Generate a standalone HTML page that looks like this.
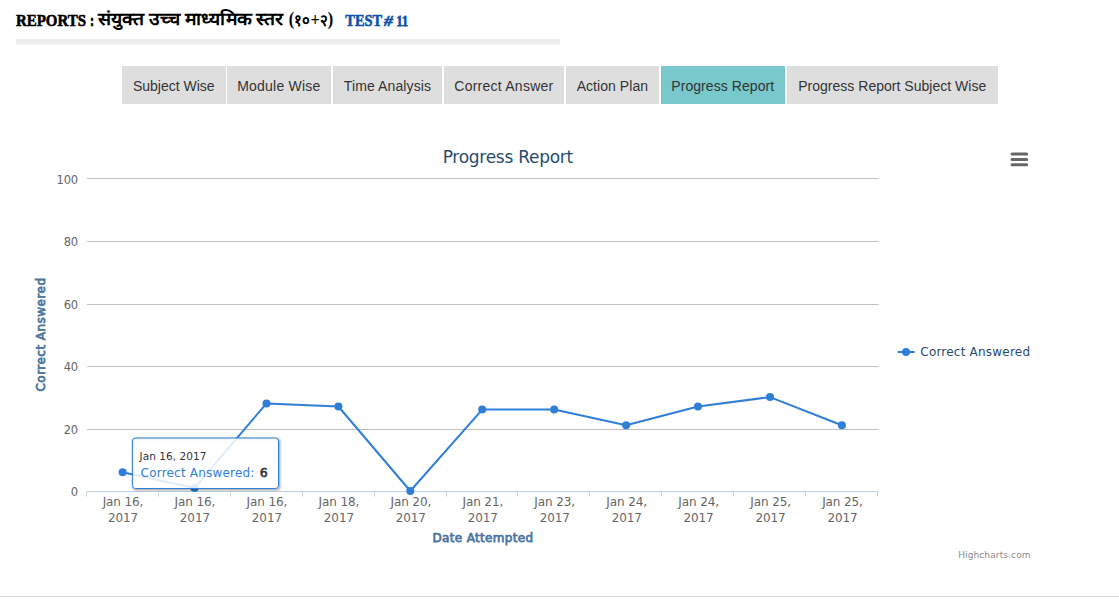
<!DOCTYPE html>
<html lang="hi">
<head>
<meta charset="utf-8">
<title>Reports - Progress Report</title>
<style>
html,body{margin:0;padding:0;background:#fff}
body{position:relative;width:1119px;height:601px;overflow:hidden;font-family:"Liberation Sans",sans-serif;color:#333}
.head{position:absolute;left:0;top:0;width:600px;height:50px;overflow:visible}
.head text{font-family:"Liberation Serif",serif;font-weight:bold;font-size:17.3px;fill:#000}
.head .la{stroke:#000;stroke-width:0.6px}
.head .hi{font-weight:600;font-size:17.5px}
.head .hp{font-weight:bold;font-size:18px}
.head .hd{font-weight:700;font-size:16.5px}
.head .t2{font-size:15.5px;font-style:italic}
.head .t3{font-size:14.5px;stroke-width:0.8px}
.head .co{stroke-width:1px}
.head .tn{fill:#0f50aa;stroke:#0f50aa}
ul.tabs{list-style:none;margin:0;padding:0;position:absolute;left:0;top:66px;height:38px;width:1119px}
ul.tabs li{position:absolute;top:0;height:38px;background:#dedede;text-align:center;font-size:14px;line-height:40px;color:#333;white-space:nowrap}
ul.tabs li.on{background:#78c8cc}
ul.tabs li a{color:inherit;text-decoration:none}
svg.chart{position:absolute;left:0;top:0}
svg.chart text{font-family:"DejaVu Sans","Liberation Sans",sans-serif}
.ct{font-size:17px;fill:#274b6d;letter-spacing:-0.27px}
.al text{font-size:11.5px;fill:#666;letter-spacing:-0.2px}
.xl text{font-size:12px;letter-spacing:-0.1px}
.at{font-size:12px;fill:#4d759e;stroke:#4d759e;stroke-width:0.75px}
.xt{letter-spacing:0.33px}
.yt{letter-spacing:0.47px}
.lg{font-size:12px;fill:#274b6d;letter-spacing:0.21px}
.cr{font-size:9px;fill:#8a8a8a;letter-spacing:0.12px}
.th{font-size:10.5px;fill:#333;letter-spacing:0.05px}
.tb{font-size:12px;fill:#333;letter-spacing:0.2px}
.tv{font-size:12.5px;stroke:#333;stroke-width:0.6px;letter-spacing:0}
.hr{position:absolute;left:0;top:596px;width:1119px;height:1px;background:#d8d8d8}
</style>
</head>
<body>
<svg class="head" width="600" height="50" viewBox="0 0 600 50">
<rect x="16" y="39.1" width="544" height="5.5" fill="#ededed"/>
<text class="la" y="25.6"><tspan x="16" textLength="70" lengthAdjust="spacingAndGlyphs">REPORTS</tspan> <tspan class="co" x="90.2" textLength="3.6" lengthAdjust="spacingAndGlyphs">:</tspan></text>
<text class="hi" x="97.7" y="24.9" textLength="185" lengthAdjust="spacingAndGlyphs">संयुक्त उच्च माध्यमिक स्तर</text>
<text class="hn" x="288.8" y="25.6" textLength="44.4" lengthAdjust="spacingAndGlyphs"><tspan class="hp" dy="-0.8">(</tspan><tspan class="hd" dy="0.8">१०</tspan><tspan class="hp">+</tspan><tspan class="hd">२</tspan><tspan class="hp" dy="-0.8">)</tspan></text>
<text class="la tn" y="25.6"><tspan x="345.3" textLength="36.8" lengthAdjust="spacingAndGlyphs">TEST</tspan><tspan class="t2" x="384" textLength="8.8" lengthAdjust="spacingAndGlyphs">#</tspan> <tspan class="t3" x="396.6" textLength="11.4" lengthAdjust="spacingAndGlyphs">11</tspan></text>
</svg>
<ul class="tabs">
<li style="left:122px;width:103.5px;letter-spacing:0px"><a>Subject Wise</a></li>
<li style="left:227px;width:103.75px;letter-spacing:0.21px"><a>Module Wise</a></li>
<li style="left:333px;width:109px;letter-spacing:0.11px"><a>Time Analysis</a></li>
<li style="left:444px;width:119.75px;letter-spacing:0.25px"><a>Correct Answer</a></li>
<li style="left:565.75px;width:93.25px;letter-spacing:0.06px"><a>Action Plan</a></li>
<li class="on" style="left:660.5px;width:124.5px;letter-spacing:0.07px"><a>Progress Report</a></li>
<li style="left:787px;width:210.5px;letter-spacing:0.02px"><a>Progress Report Subject Wise</a></li>
</ul>
<svg class="chart" width="1119" height="601" viewBox="0 0 1119 601">
<g stroke="#C0C0C0" stroke-width="1" fill="none">
<path d="M 87.0 178.5 L 878.5 178.5"/>
<path d="M 87.0 241.5 L 878.5 241.5"/>
<path d="M 87.0 304.5 L 878.5 304.5"/>
<path d="M 87.0 366.5 L 878.5 366.5"/>
<path d="M 87.0 429.5 L 878.5 429.5"/>
</g>
<g stroke="#C0D0E0" stroke-width="1" fill="none">
<path d="M 87.0 491.5 L 878.5 491.5"/>
<path d="M 86.5 491.5 L 86.5 496.5"/>
<path d="M 158.5 491.5 L 158.5 496.5"/>
<path d="M 230.5 491.5 L 230.5 496.5"/>
<path d="M 302.5 491.5 L 302.5 496.5"/>
<path d="M 374.5 491.5 L 374.5 496.5"/>
<path d="M 446.5 491.5 L 446.5 496.5"/>
<path d="M 517.5 491.5 L 517.5 496.5"/>
<path d="M 589.5 491.5 L 589.5 496.5"/>
<path d="M 661.5 491.5 L 661.5 496.5"/>
<path d="M 733.5 491.5 L 733.5 496.5"/>
<path d="M 805.5 491.5 L 805.5 496.5"/>
<path d="M 877.5 491.5 L 877.5 496.5"/>
</g>
<path d="M 122.6 472.2 L 194.5 487.9 L 266.5 403.4 L 338.4 406.5 L 410.3 491.0 L 482.2 409.6 L 554.2 409.6 L 626.1 425.3 L 698.0 406.5 L 770.0 397.1 L 841.9 425.3" fill="none" stroke="#2f7ed8" stroke-width="2" stroke-linejoin="round" stroke-linecap="round"/>
<g fill="#2f7ed8">
<circle cx="122.6" cy="472.2" r="4"/>
<circle cx="194.5" cy="487.9" r="4"/>
<circle cx="266.5" cy="403.4" r="4"/>
<circle cx="338.4" cy="406.5" r="4"/>
<circle cx="410.3" cy="491.0" r="4"/>
<circle cx="482.2" cy="409.6" r="4"/>
<circle cx="554.2" cy="409.6" r="4"/>
<circle cx="626.1" cy="425.3" r="4"/>
<circle cx="698.0" cy="406.5" r="4"/>
<circle cx="770.0" cy="397.1" r="4"/>
<circle cx="841.9" cy="425.3" r="4"/>
</g>
<text class="ct" x="507.8" y="163" text-anchor="middle">Progress Report</text>
<g class="al" text-anchor="end">
<text x="77.9" y="184.2">100</text>
<text x="77.9" y="246.2">80</text>
<text x="77.9" y="309.2">60</text>
<text x="77.9" y="371.2">40</text>
<text x="77.9" y="434.2">20</text>
<text x="77.9" y="496.2">0</text>
</g>
<g class="al xl" text-anchor="middle">
<text x="123.0" y="506">Jan 16,</text><text x="123.0" y="522">2017</text>
<text x="194.9" y="506">Jan 16,</text><text x="194.9" y="522">2017</text>
<text x="266.9" y="506">Jan 16,</text><text x="266.9" y="522">2017</text>
<text x="338.9" y="506">Jan 18,</text><text x="338.9" y="522">2017</text>
<text x="410.8" y="506">Jan 20,</text><text x="410.8" y="522">2017</text>
<text x="482.8" y="506">Jan 21,</text><text x="482.8" y="522">2017</text>
<text x="554.7" y="506">Jan 23,</text><text x="554.7" y="522">2017</text>
<text x="626.7" y="506">Jan 24,</text><text x="626.7" y="522">2017</text>
<text x="698.6" y="506">Jan 24,</text><text x="698.6" y="522">2017</text>
<text x="770.6" y="506">Jan 25,</text><text x="770.6" y="522">2017</text>
<text x="842.5" y="506">Jan 25,</text><text x="842.5" y="522">2017</text>
</g>
<text class="at xt" x="483" y="542" text-anchor="middle">Date Attempted</text>
<text class="at yt" transform="translate(45.2 334.5) rotate(-90)" text-anchor="middle">Correct Answered</text>
<path d="M 897.7 352 L 914.7 352" stroke="#2f7ed8" stroke-width="2" fill="none"/>
<circle cx="906" cy="352" r="4" fill="#2f7ed8"/>
<text class="lg" x="920.3" y="356">Correct Answered</text>
<path d="M 1012 154 L 1026.7 154 M 1012 159.4 L 1026.7 159.4 M 1012 164.7 L 1026.7 164.7" stroke="#666" stroke-width="3" stroke-linecap="round" fill="none"/>
<text class="cr" x="1030.7" y="558" text-anchor="end">Highcharts.com</text>
<g class="tt">
<rect x="133.4" y="439.0" width="146.1" height="50.5" rx="3" ry="3" fill="none" stroke="#000" stroke-opacity="0.05" stroke-width="5"/>
<rect x="133.4" y="439.0" width="146.1" height="50.5" rx="3" ry="3" fill="none" stroke="#000" stroke-opacity="0.1" stroke-width="3"/>
<rect x="133.4" y="439.0" width="146.1" height="50.5" rx="3" ry="3" fill="none" stroke="#000" stroke-opacity="0.15" stroke-width="1"/>
<rect x="132.4" y="438.0" width="146.1" height="50.5" rx="3" ry="3" fill="#fff" fill-opacity="0.85" stroke="#2f7ed8" stroke-width="1"/>
<text class="th" x="139.5" y="459.8">Jan 16, 2017</text>
<text class="tb" x="140.6" y="476.6"><tspan fill="#2f7ed8">Correct Answered:</tspan> <tspan class="tv" dx="1.1">6</tspan></text>
</g>
</svg>
<div class="hr"></div>
</body>
</html>
